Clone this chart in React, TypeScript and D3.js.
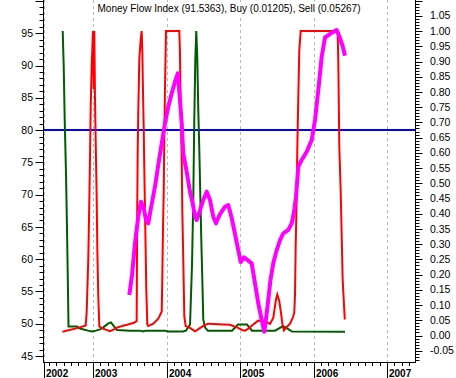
import React from 'react';
import * as d3 from 'd3';

const W = 456;
const H = 378;

const titleText = 'Money Flow Index (91.5363), Buy (0.01205), Sell (0.05267)';

// Money Flow Index (left axis) — decimal years / values
const mfiDates = [
  2003.494, 2003.531, 2003.571, 2003.616, 2003.653, 2003.690, 2003.721, 2003.752, 2003.789, 2003.843,
  2003.888, 2003.935, 2003.979, 2004.024, 2004.071, 2004.115, 2004.154, 2004.183, 2004.207, 2004.228,
  2004.275, 2004.320, 2004.356, 2004.388, 2004.411, 2004.456, 2004.500, 2004.547, 2004.592, 2004.636,
  2004.673, 2004.728, 2004.796, 2004.840, 2004.887, 2004.932, 2004.976, 2005.009, 2005.054, 2005.112,
  2005.159, 2005.204, 2005.248, 2005.295, 2005.330, 2005.360, 2005.384, 2005.414, 2005.452, 2005.499,
  2005.544, 2005.588, 2005.656, 2005.703, 2005.734, 2005.761, 2005.793, 2005.839, 2005.907, 2005.975,
  2006.020, 2006.065, 2006.111, 2006.156, 2006.237, 2006.315, 2006.360, 2006.396, 2006.428,
];
const mfiValues = [
  54.45, 57.55, 62.46, 66.58, 68.91, 67.93, 66.07, 65.56, 67.93, 71.23,
  74.59, 77.96, 81.06, 83.63, 85.70, 87.50, 88.80, 84.67, 81.06, 76.41,
  73.51, 70.41, 68.66, 66.58, 66.07, 67.62, 69.17, 70.46, 69.17, 66.58,
  65.56, 67.00, 68.13, 68.40, 66.38, 63.90, 61.42, 59.56, 60.29, 59.77,
  59.36, 56.26, 53.17, 50.58, 48.76, 51.35, 53.68, 56.78, 59.36, 61.42,
  62.97, 64.01, 64.52, 65.56, 67.31, 69.64, 74.33, 75.37, 76.65, 78.47,
  81.57, 86.21, 91.37, 94.35, 95.00, 95.51, 94.27, 93.03, 91.5363,
];

// Buy signal (right axis)
const buyDates = [
  2002.588, 2002.602, 2002.615, 2002.633, 2002.646, 2002.657, 2002.667, 2002.782, 2002.823, 2002.932,
  2002.986, 2003.041, 2003.095, 2003.136, 2003.204, 2003.245, 2003.286, 2003.327, 2003.503, 2003.639,
  2003.680, 2003.721, 2003.979, 2004.020, 2004.224, 2004.265, 2004.320, 2004.347, 2004.364, 2004.378,
  2004.392, 2004.405, 2004.419, 2004.432, 2004.446, 2004.460, 2004.473, 2004.487, 2004.500, 2004.524,
  2004.564, 2004.891, 2004.972, 2005.095, 2005.163, 2005.476, 2005.584, 2005.625, 2005.707, 2006.428,
];
const buyValues = [
  1.00, 0.882, 0.711, 0.530, 0.359, 0.194, 0.030, 0.030, 0.023, 0.016,
  0.013, 0.016, 0.020, 0.026, 0.039, 0.043, 0.030, 0.018, 0.016, 0.016,
  0.013, 0.016, 0.016, 0.013, 0.013, 0.016, 0.036, 0.234, 0.447, 0.711,
  0.908, 1.00, 0.908, 0.743, 0.612, 0.457, 0.316, 0.184, 0.053, 0.026,
  0.016, 0.016, 0.036, 0.036, 0.016, 0.016, 0.031, 0.026, 0.013, 0.01205,
];

// Sell signal (right axis)
const sellDates = [
  2002.583, 2002.664, 2002.800, 2002.901, 2002.914, 2002.936, 2002.950, 2002.959, 2002.969, 2002.982,
  2003.000, 2003.010, 2003.018, 2003.027, 2003.037, 2003.050, 2003.059, 2003.072, 2003.086, 2003.109,
  2003.163, 2003.231, 2003.286, 2003.327, 2003.395, 2003.476, 2003.558, 2003.594, 2003.601, 2003.608,
  2003.616, 2003.630, 2003.649, 2003.662, 2003.671, 2003.680, 2003.690, 2003.698, 2003.707, 2003.717,
  2003.725, 2003.739, 2003.752, 2003.820, 2003.888, 2003.935, 2003.943, 2003.952, 2003.962, 2003.970,
  2003.979, 2003.993, 2004.174, 2004.183, 2004.193, 2004.207, 2004.215, 2004.228, 2004.242, 2004.261,
  2004.320, 2004.388, 2004.428, 2004.496, 2004.564, 2004.864, 2004.972, 2005.040, 2005.068, 2005.108,
  2005.180, 2005.248, 2005.340, 2005.408, 2005.452, 2005.489, 2005.507, 2005.534, 2005.557, 2005.580,
  2005.598, 2005.639, 2005.680, 2005.716, 2005.738, 2005.748, 2005.757, 2005.771, 2005.779, 2005.792,
  2005.806, 2005.825, 2006.328, 2006.337, 2006.350, 2006.369, 2006.383, 2006.396, 2006.425,
];
const sellValues = [
  0.012, 0.017, 0.025, 0.033, 0.076, 0.250, 0.441, 0.579, 0.753, 0.885,
  1.00, 0.809, 1.00, 0.783, 0.635, 0.457, 0.283, 0.128, 0.030, 0.026,
  0.020, 0.014, 0.020, 0.026, 0.031, 0.036, 0.042, 0.047, 0.392, 0.602,
  0.734, 0.908, 0.974, 1.00, 0.931, 0.803, 0.678, 0.546, 0.414, 0.273,
  0.151, 0.036, 0.031, 0.039, 0.055, 0.079, 0.195, 0.349, 0.470, 0.645,
  0.809, 1.00, 1.00, 0.931, 0.743, 0.579, 0.409, 0.250, 0.063, 0.031,
  0.025, 0.014, 0.020, 0.031, 0.039, 0.035, 0.025, 0.017, 0.016, 0.022,
  0.036, 0.049, 0.047, 0.038, 0.058, 0.118, 0.135, 0.113, 0.075, 0.031,
  0.017, 0.029, 0.039, 0.058, 0.075, 0.135, 0.294, 0.458, 0.612, 0.776,
  0.935, 1.00, 1.00, 0.897, 0.623, 0.475, 0.327, 0.184, 0.05267,
];

const yearTickValues = [2002.34, 2003, 2004, 2005, 2006, 2007];
const yearTickLabels = ['2002', '2003', '2004', '2005', '2006', '2007'];
const leftTickLabels = [45, 50, 55, 60, 65, 70, 75, 80, 85, 90, 95];
const rightTickLabels = [-0.05, 0, 0.05, 0.1, 0.15, 0.2, 0.25, 0.3, 0.35, 0.4, 0.45, 0.5, 0.55, 0.6, 0.65, 0.7, 0.75, 0.8, 0.85, 0.9, 0.95, 1.0, 1.05];
const overboughtLevel = 80;

const PLOT = { left: 43, right: 415, top: 0, bottom: 362 };
const FONT = "'Liberation Sans', Arial, sans-serif";

export default function App() {
  const x = d3.scaleLinear().domain([2002.32, 2007.38]).range([PLOT.left, PLOT.right]);
  const yL = d3.scaleLinear().domain([44.07, 100.16]).range([PLOT.bottom, PLOT.top]);
  const yR = d3.scaleLinear().domain([-0.087, 1.102]).range([PLOT.bottom, PLOT.top]);

  const mfi = mfiDates.map((d, i) => [d, mfiValues[i]] as [number, number]);
  const buy = buyDates.map((d, i) => [d, buyValues[i]] as [number, number]);
  const sell = sellDates.map((d, i) => [d, sellValues[i]] as [number, number]);

  const lineL = d3.line<[number, number]>().x(d => x(d[0])).y(d => yL(d[1]));
  const lineR = d3.line<[number, number]>().x(d => x(d[0])).y(d => yR(d[1]));

  const leftTicks = d3.range(45, 101, 1);
  const rightTicks = d3.range(-8, 111, 1);
  const minorX = d3.range(2002.4, 2007.38, 0.1).filter(v => Math.abs(v - Math.round(v)) > 0.02);

  const cx = (PLOT.left + PLOT.right) / 2;

  return (
    <svg width={W} height={H} style={{ position: 'absolute', left: 0, top: 0, background: '#fff' }}>
      <rect x={0} y={0} width={W} height={H} fill="#fff" />
      {/* vertical grid */}
      {yearTickValues.map((v, i) => (
        <line key={'g' + i} x1={Math.round(x(v)) + 0.5} x2={Math.round(x(v)) + 0.5} y1={PLOT.top} y2={PLOT.bottom}
          stroke="#b8b8b8" strokeWidth={1} strokeDasharray="3,3" />
      ))}
      {/* title */}
      <rect x={cx - 131} y={2} width={262} height={13} fill="#fff" />
      <text x={cx} y={11.5} textAnchor="middle" fontFamily={FONT} fontSize={10} fill="#000">{titleText}</text>

      {/* overbought line */}
      <line x1={PLOT.left} x2={PLOT.right} y1={yL(overboughtLevel)} y2={yL(overboughtLevel)} stroke="#0000ff" strokeWidth={2} />

      {/* signals */}
      <path d={lineR(buy) || ''} fill="none" stroke="#005c00" strokeWidth={2} strokeLinejoin="miter" />
      <path d={lineR(sell) || ''} fill="none" stroke="#ff0000" strokeWidth={2} strokeLinejoin="miter" />
      {/* MFI */}
      <path d={lineL(mfi) || ''} fill="none" stroke="#ff00ff" strokeWidth={4} strokeLinejoin="round" />

      {/* left axis */}
      <line x1={PLOT.left + 0.5} x2={PLOT.left + 0.5} y1={0} y2={PLOT.bottom} stroke="#000" />
      {leftTicks.map(v => (
        <line key={'lt' + v} x1={PLOT.left + 0.5 - (v % 5 === 0 ? 8 : 4)} x2={PLOT.left + 0.5}
          y1={Math.round(yL(v)) + 0.5} y2={Math.round(yL(v)) + 0.5} stroke="#000" />
      ))}
      {leftTickLabels.map(v => (
        <text key={'ll' + v} x={33} y={yL(v) + 3.6} textAnchor="end" fontFamily={FONT} fontSize={10.5} fill="#000">{v}</text>
      ))}

      {/* right axis */}
      <line x1={PLOT.right + 0.5} x2={PLOT.right + 0.5} y1={0} y2={PLOT.bottom} stroke="#000" />
      {rightTicks.map(i => (
        <line key={'rt' + i} x1={PLOT.right + 0.5} x2={PLOT.right + 0.5 + (i % 5 === 0 ? 7 : 4)}
          y1={Math.round(yR(i / 100)) + 0.5} y2={Math.round(yR(i / 100)) + 0.5} stroke="#000" />
      ))}
      {rightTickLabels.map(v => (
        <text key={'rl' + v} x={430} y={yR(v) + 3.6} textAnchor="start" fontFamily={FONT} fontSize={10.5} fill="#000">{v.toFixed(2)}</text>
      ))}

      {/* bottom axis */}
      <line x1={PLOT.left} x2={PLOT.right + 1} y1={PLOT.bottom + 0.5} y2={PLOT.bottom + 0.5} stroke="#000" />
      {minorX.map((v, i) => (
        <line key={'mx' + i} x1={Math.round(x(v)) + 0.5} x2={Math.round(x(v)) + 0.5} y1={PLOT.bottom} y2={PLOT.bottom + 4} stroke="#000" />
      ))}
      {yearTickValues.map((v, i) => (
        <g key={'yt' + i}>
          <line x1={Math.round(x(v)) + 0.5} x2={Math.round(x(v)) + 0.5} y1={PLOT.bottom} y2={H} stroke="#000" />
          <text x={Math.round(x(v)) + 2} y={376.5} fontFamily={FONT} fontWeight="bold" fontSize={10} fill="#000">{yearTickLabels[i]}</text>
        </g>
      ))}
    </svg>
  );
}
